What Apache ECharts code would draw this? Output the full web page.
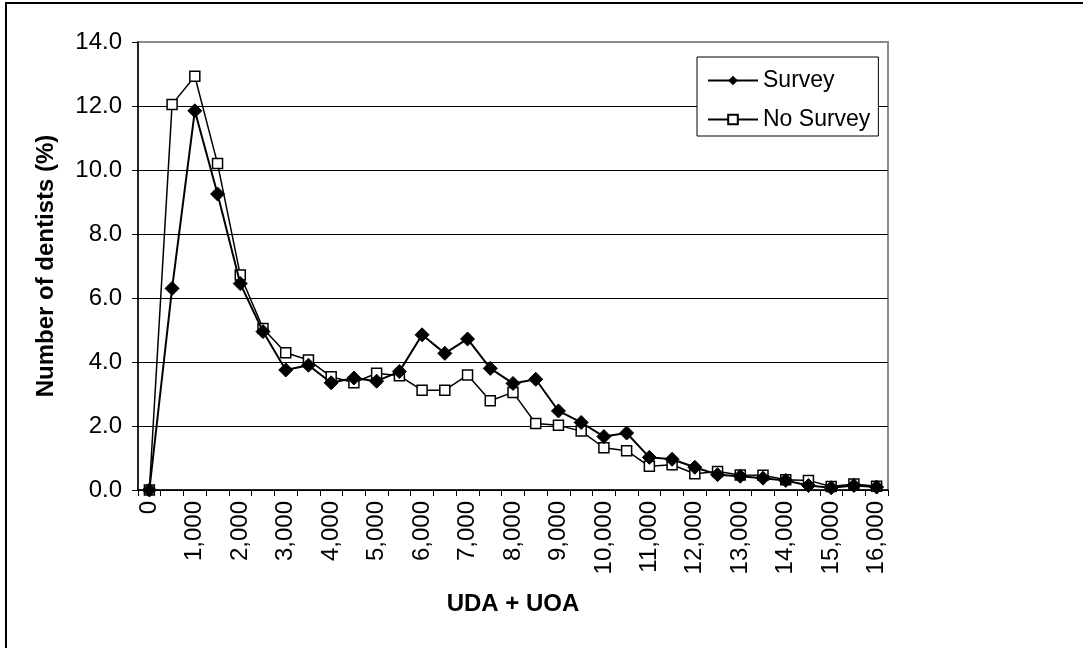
<!DOCTYPE html>
<html>
<head>
<meta charset="utf-8">
<script src="https://cdn.jsdelivr.net/npm/echarts@6/dist/echarts.min.js"></script>
<style>
html,body{margin:0;padding:0;background:#fff;}
#chart{width:1083px;height:648px;}
</style>
</head>
<body>
<div id="chart"></div>
<script>
// Categories: UDA + UOA (every 500)
const categories = [0,500,1000,1500,2000,2500,3000,3500,4000,4500,5000,5500,6000,6500,7000,7500,8000,8500,9000,9500,10000,10500,11000,11500,12000,12500,13000,13500,14000,14500,15000,15500,16000];
// Number of dentists (%)
const survey = [0.0,6.3,11.85,9.25,6.45,4.95,3.75,3.9,3.35,3.5,3.4,3.7,4.85,4.27,4.72,3.8,3.33,3.46,2.47,2.11,1.67,1.78,1.02,0.96,0.71,0.48,0.43,0.37,0.3,0.14,0.07,0.14,0.09];
const noSurvey = [0.0,12.05,12.93,10.2,6.72,5.05,4.29,4.06,3.54,3.35,3.65,3.57,3.12,3.12,3.59,2.79,3.05,2.08,2.02,1.84,1.32,1.23,0.74,0.79,0.51,0.58,0.47,0.46,0.32,0.3,0.11,0.19,0.12];
const yTicks = [0,2,4,6,8,10,12,14];

const chart = echarts.init(document.getElementById('chart'), null, {renderer:'canvas'});
const FONT = 'Liberation Sans, Arial, sans-serif';
chart.setOption({
  animation:false,
  backgroundColor:'#fff',
  graphic:[{
    type:'rect', shape:{x:6,y:3,width:1100,height:700},
    style:{fill:'none',stroke:'#000',lineWidth:2}, z:-1
  }],
  grid:{left:138,right:195,top:42,bottom:158,show:true,borderColor:'#8c8c8c',borderWidth:2,backgroundColor:'transparent'},
  legend:{
    orient:'vertical', left:697, top:57,
    data:['Survey','No Survey'],
    borderColor:'#000', borderWidth:1, backgroundColor:'#fff',
    padding:[12,8,5,10], itemWidth:50, itemHeight:12, itemGap:16,
    textStyle:{fontFamily:FONT,fontSize:23,color:'#000'}
  },
  xAxis:{
    type:'category', data:categories, boundaryGap:true,
    name:'UDA + UOA', nameLocation:'middle', nameGap:102,
    nameTextStyle:{fontFamily:FONT,fontSize:24,fontWeight:'bold',color:'#000'},
    axisLine:{lineStyle:{color:'#000',width:1.5}},
    axisTick:{show:true,interval:0,length:6,lineStyle:{color:'#000'}},
    axisLabel:{interval:1,rotate:90,margin:11,fontFamily:FONT,fontSize:24,color:'#000',
      formatter:v=>Number(v).toLocaleString('en-US')}
  },
  yAxis:{
    type:'value', min:yTicks[0], max:yTicks[yTicks.length-1], interval:2,
    name:'Number of dentists (%)', nameLocation:'middle', nameGap:80, nameRotate:90,
    nameTextStyle:{fontFamily:FONT,fontSize:24,fontWeight:'bold',color:'#000'},
    axisLine:{show:true,lineStyle:{color:'#000',width:1.5}},
    axisTick:{show:true,length:6,lineStyle:{color:'#000'}},
    axisLabel:{margin:16,fontFamily:FONT,fontSize:24,color:'#000',formatter:v=>v.toFixed(1)},
    splitLine:{show:true,showMaxLine:false,lineStyle:{color:'#000',width:1}}
  },
  series:[
    {name:'Survey',type:'line',data:survey,symbol:'diamond',symbolSize:14,
      lineStyle:{color:'#000',width:2},itemStyle:{color:'#000',borderColor:'#000'},z:3},
    {name:'No Survey',type:'line',data:noSurvey,symbol:'rect',symbolSize:10,
      lineStyle:{color:'#000',width:1.5},itemStyle:{color:'#fff',borderColor:'#000',borderWidth:1.5},z:2}
  ]
});
</script>
</body>
</html>
